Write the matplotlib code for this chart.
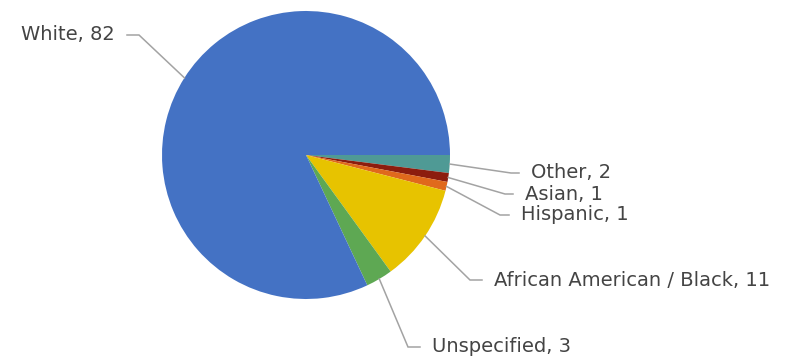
import numpy as np
import matplotlib
matplotlib.use("Agg")
import matplotlib.pyplot as plt

# Race / ethnicity breakdown
categories = ["Other", "Asian", "Hispanic", "African American / Black", "Unspecified", "White"]
values = [2, 1, 1, 11, 3, 82]
colors = ["#4f9a95", "#8c1d0e", "#e0691c", "#e7c300", "#5ea853", "#4472c4"]

W, H = 792, 361
fig = plt.figure(figsize=(W / 100, H / 100), dpi=100)
ax = fig.add_axes([0, 0, 1, 1])

cx, cy, r = 306, H - 155, 144
wedges, _ = ax.pie(values, colors=colors, startangle=0, counterclock=False,
                   center=(cx, cy), radius=r,
                   wedgeprops=dict(linewidth=0))
ax.set_xlim(0, W)
ax.set_ylim(0, H)
ax.set_aspect("equal")
ax.axis("off")

# leader line layout: elbow point (pixels from top-left), horizontal tail, side
elbows = {
    "Other": (511, 173, 8, 1),
    "Asian": (505, 194, 8, 1),
    "Hispanic": (500, 215, 9, 1),
    "African American / Black": (470, 280, 12, 1),
    "Unspecified": (408, 347, 12, 1),
    "White": (139, 35, 12, -1),
}
gap = 12
line_color = "#a3a3a3"
text_color = "#444444"

for w, name, val in zip(wedges, categories, values):
    mid = np.deg2rad((w.theta1 + w.theta2) / 2)
    sx, sy = cx + r * np.cos(mid), cy + r * np.sin(mid)
    ex, ey_px, tail, side = elbows[name]
    ey = H - ey_px
    hx = ex + side * tail
    ax.plot([sx, ex, hx], [sy, ey, ey], color=line_color, lw=1.1,
            solid_joinstyle="miter")
    ax.text(hx + side * gap, ey, f"{name}, {val}", fontsize=14,
            family="DejaVu Sans", color=text_color,
            ha="left" if side > 0 else "right", va="center")

fig.savefig("out.png", dpi=100, facecolor="white")
